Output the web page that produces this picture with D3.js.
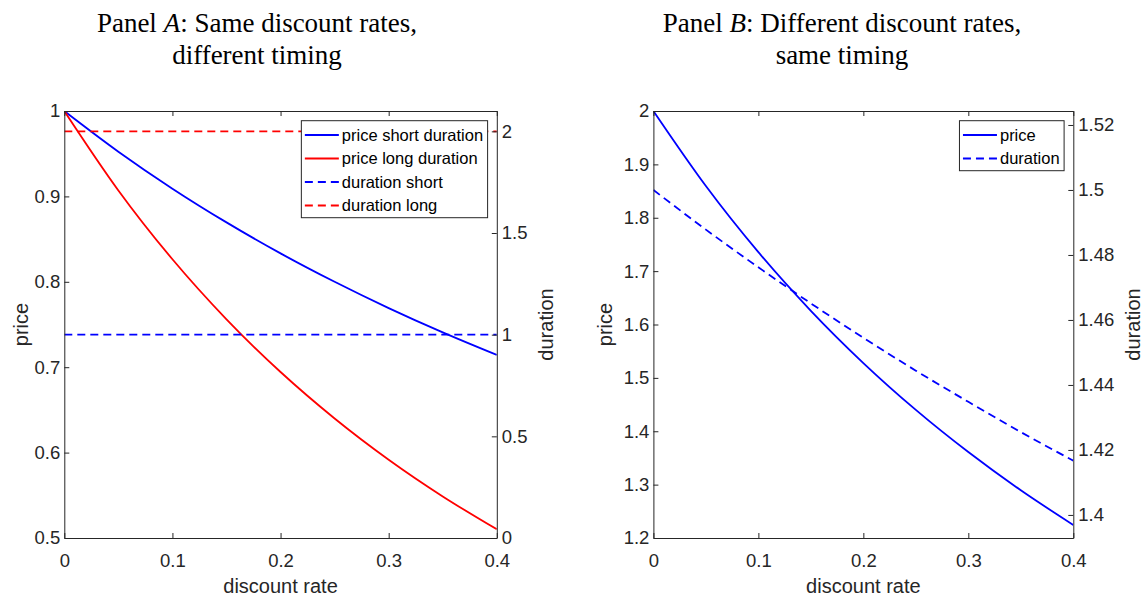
<!DOCTYPE html>
<html>
<head>
<meta charset="utf-8">
<script src="https://cdn.jsdelivr.net/npm/d3@7"></script>
<style>
  html, body { margin: 0; padding: 0; background: #fff; }
  svg { display: block; }
  .tick text { font-family: "Liberation Sans", Arial, sans-serif; font-size: 18.5px; fill: #262626; }
  .ax-title { font-family: "Liberation Serif", "Times New Roman", serif; font-size: 27px; fill: #000; }
  .ax-label { font-family: "Liberation Sans", Arial, sans-serif; font-size: 20px; fill: #262626; }
  .leg text { font-family: "Liberation Sans", Arial, sans-serif; font-size: 16.5px; fill: #000; }
</style>
</head>
<body>
<div id="chart"></div>
<script>
// ---- data -----------------------------------------------------------------
const rates = [0, 0.05, 0.1, 0.15, 0.2, 0.25, 0.3, 0.35, 0.4];

// Panel A: same discount rates, different timing
const priceShortA = [1, 0.9524, 0.9091, 0.8696, 0.8333, 0.8000, 0.7692, 0.7407, 0.7143];
const priceLongA  = [1, 0.9070, 0.8264, 0.7561, 0.6944, 0.6400, 0.5917, 0.5487, 0.5102];
const durShortA   = [1, 1, 1, 1, 1, 1, 1, 1, 1];
const durLongA    = [2, 2, 2, 2, 2, 2, 2, 2, 2];

// Panel B: different discount rates, same timing
const priceB = [2, 1.8594, 1.7355, 1.6257, 1.5278, 1.4400, 1.3610, 1.2894, 1.2245];
const durB   = [1.5, 1.4878, 1.4762, 1.4651, 1.4545, 1.4444, 1.4348, 1.4255, 1.4167];

const xTicks   = [0, 0.1, 0.2, 0.3, 0.4];
const yTicksA  = [0.5, 0.6, 0.7, 0.8, 0.9, 1];
const y2TicksA = [0, 0.5, 1, 1.5, 2];
const yTicksB  = [1.2, 1.3, 1.4, 1.5, 1.6, 1.7, 1.8, 1.9, 2];
const y2TicksB = [1.4, 1.42, 1.44, 1.46, 1.48, 1.5, 1.52];

const W = 1143, H = 598;
const AX = '#262626';
const fmt = d => String(+d.toFixed(2));

const svg = d3.select('#chart').append('svg')
  .attr('width', W).attr('height', H)
  .attr('viewBox', `0 0 ${W} ${H}`);

const panels = [
  {
    title: ['Panel ', 'A', ': Same discount rates,'], title2: 'different timing', titleX: 257,
    box: { l: 64.3, r: 496.8, t: 111, b: 538 },
    yDom: [0.5, 1], y2Dom: [0, 2.1], yTicks: yTicksA, y2Ticks: y2TicksA,
    yLabelX: 28, y2LabelX: 553,
    series: [
      { name: 'price short duration', vals: priceShortA, axis: 'L', color: '#0000ff', dash: null },
      { name: 'price long duration',  vals: priceLongA,  axis: 'L', color: '#ff0000', dash: null },
      { name: 'duration short',       vals: durShortA,   axis: 'R', color: '#0000ff', dash: '8,5' },
      { name: 'duration long',        vals: durLongA,    axis: 'R', color: '#ff0000', dash: '8,5' }
    ]
  },
  {
    title: ['Panel ', 'B', ': Different discount rates,'], title2: 'same timing', titleX: 842,
    box: { l: 653.4, r: 1073.3, t: 111, b: 538 },
    yDom: [1.2, 2], y2Dom: [1.3929, 1.5243], yTicks: yTicksB, y2Ticks: y2TicksB,
    yLabelX: 612, y2LabelX: 1140,
    series: [
      { name: 'price',    vals: priceB, axis: 'L', color: '#0000ff', dash: null },
      { name: 'duration', vals: durB,   axis: 'R', color: '#0000ff', dash: '8,5' }
    ]
  }
];

panels.forEach(drawPanel);

function drawPanel(p) {
  const { l, r, t, b } = p.box;
  const x  = d3.scaleLinear().domain([0, 0.4]).range([l, r]);
  const y  = d3.scaleLinear().domain(p.yDom).range([b, t]);
  const y2 = d3.scaleLinear().domain(p.y2Dom).range([b, t]);
  const g = svg.append('g');

  // title, two lines
  const tt = g.append('text').attr('class', 'ax-title')
    .attr('x', p.titleX).attr('y', 32).attr('text-anchor', 'middle');
  tt.append('tspan').text(p.title[0]);
  tt.append('tspan').style('font-style', 'italic').text(p.title[1]);
  tt.append('tspan').text(p.title[2]);
  g.append('text').attr('class', 'ax-title')
    .attr('x', p.titleX).attr('y', 63.5).attr('text-anchor', 'middle')
    .text(p.title2);

  // lines
  const clipId = 'clip' + Math.round(l);
  g.append('clipPath').attr('id', clipId)
    .append('rect').attr('x', l).attr('y', t).attr('width', r - l).attr('height', b - t);
  const lines = g.append('g').attr('clip-path', `url(#${clipId})`);
  p.series.forEach(s => {
    const sy = s.axis === 'L' ? y : y2;
    lines.append('path')
      .datum(rates.map((rt, i) => [rt, s.vals[i]]))
      .attr('fill', 'none')
      .attr('stroke', s.color)
      .attr('stroke-width', 1.8)
      .attr('stroke-dasharray', s.dash)
      .attr('d', d3.line().x(d => x(d[0])).y(d => sy(d[1])).curve(d3.curveMonotoneX));
  });

  // axes, MATLAB style: ticks pointing inward, box around
  const styleAxis = sel => {
    sel.select('.domain').attr('stroke', AX);
    sel.selectAll('.tick line').attr('stroke', AX);
  };
  g.append('g').attr('transform', `translate(0,${b})`)
    .call(d3.axisBottom(x).tickValues(xTicks).tickFormat(fmt).tickSizeInner(-5).tickSizeOuter(0).tickPadding(16))
    .call(styleAxis);
  g.append('g').attr('transform', `translate(0,${t})`)
    .call(d3.axisTop(x).tickValues(xTicks).tickFormat('').tickSizeInner(-5).tickSizeOuter(0))
    .call(styleAxis);
  g.append('g').attr('transform', `translate(${l},0)`)
    .call(d3.axisLeft(y).tickValues(p.yTicks).tickFormat(fmt).tickSizeInner(-5).tickSizeOuter(0).tickPadding(4))
    .call(styleAxis);
  g.append('g').attr('transform', `translate(${r},0)`)
    .call(d3.axisRight(y2).tickValues(p.y2Ticks).tickFormat(fmt).tickSizeInner(-5).tickSizeOuter(0).tickPadding(5))
    .call(styleAxis);
  g.selectAll('.domain').attr('stroke-width', 1);

  // axis labels
  g.append('text').attr('class', 'ax-label')
    .attr('x', (l + r) / 2).attr('y', 593).attr('text-anchor', 'middle')
    .text('discount rate');
  g.append('text').attr('class', 'ax-label')
    .attr('transform', `translate(${p.yLabelX},${(t + b) / 2}) rotate(-90)`)
    .attr('text-anchor', 'middle').text('price');
  g.append('text').attr('class', 'ax-label')
    .attr('transform', `translate(${p.y2LabelX},${(t + b) / 2}) rotate(-90)`)
    .attr('text-anchor', 'middle').text('duration');

  // legend, top right inside the box
  const leg = g.append('g').attr('class', 'leg');
  const rowH = 23.5, top = t + 9.7, boxRight = r - 9.2;
  const bg = leg.append('rect').attr('fill', '#fff').attr('stroke', AX).attr('stroke-width', 1);
  const texts = p.series.map((s, i) =>
    leg.append('text').attr('y', top + 14.3 + i * rowH).attr('dy', '0.35em').text(s.name));
  const maxW = d3.max(texts, tx => tx.node().getComputedTextLength());
  const boxW = maxW + 45, boxL = boxRight - boxW;
  bg.attr('x', boxL).attr('y', top).attr('width', boxW).attr('height', p.series.length * rowH + 3);
  p.series.forEach((s, i) => {
    const cy = top + 14.3 + i * rowH;
    leg.append('line')
      .attr('x1', boxL + 3.5).attr('x2', boxL + 37.5).attr('y1', cy).attr('y2', cy)
      .attr('stroke', s.color).attr('stroke-width', 1.8).attr('stroke-dasharray', s.dash);
    texts[i].attr('x', boxL + 40.5);
  });
}
</script>
</body>
</html>
